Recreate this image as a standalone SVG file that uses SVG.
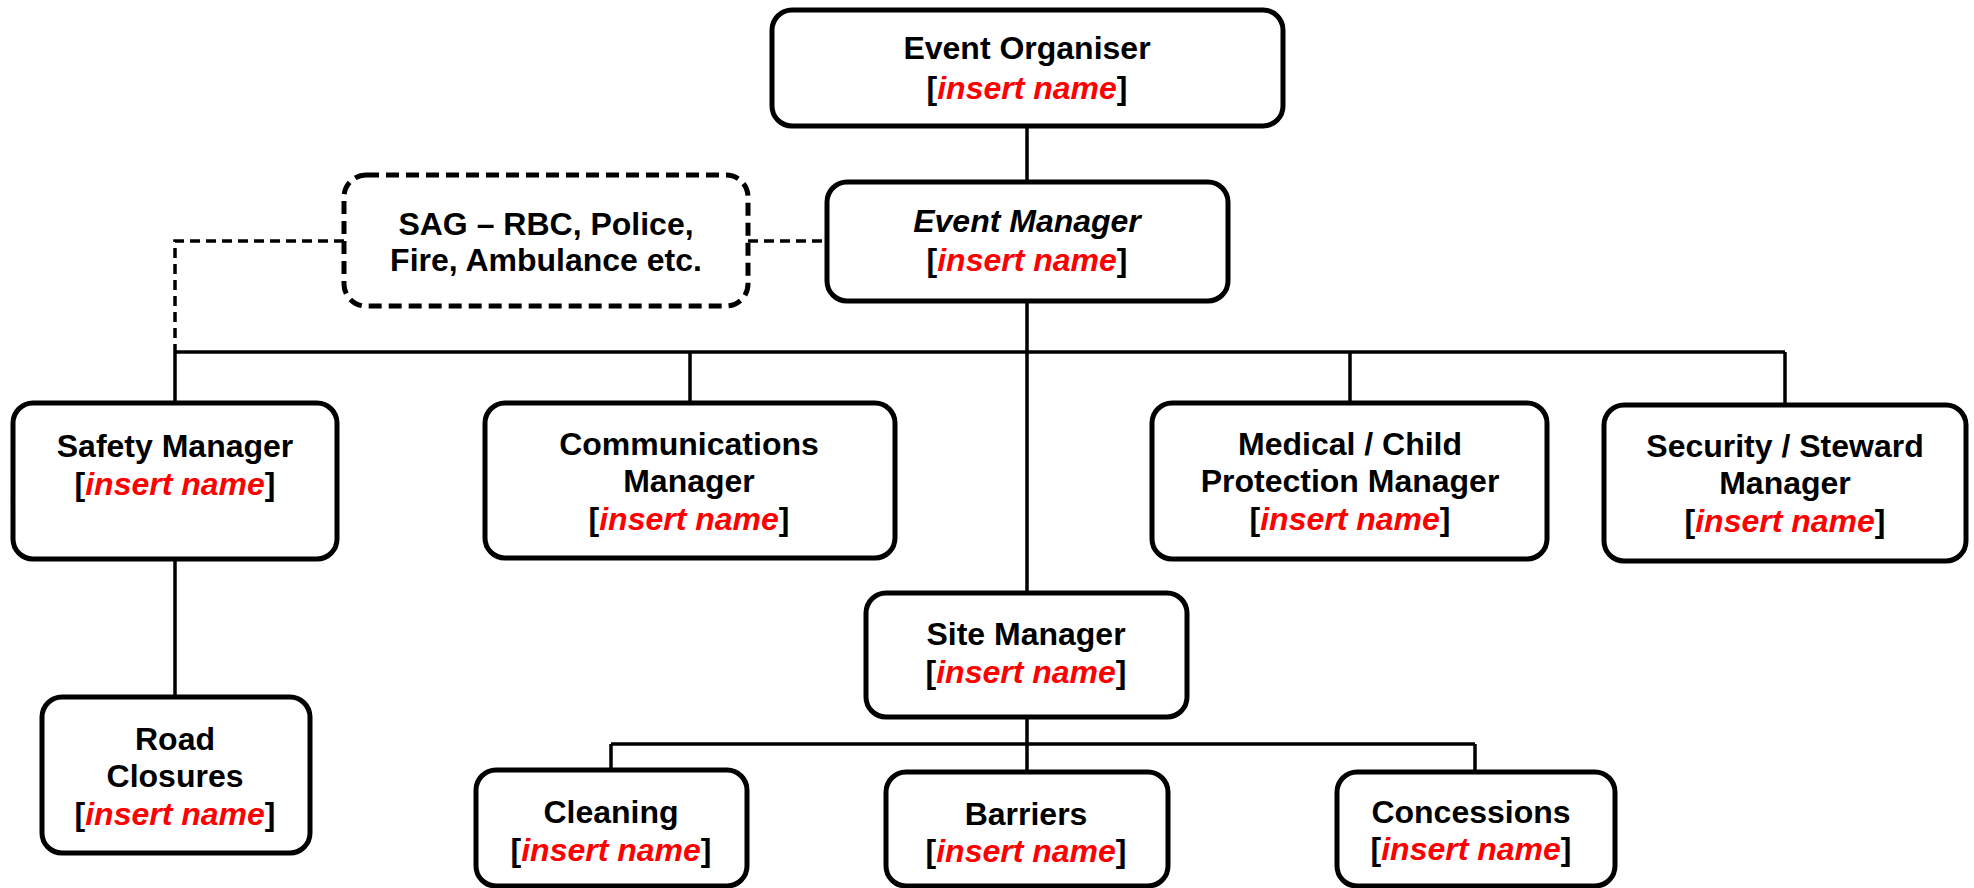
<svg xmlns="http://www.w3.org/2000/svg" width="1974" height="888" viewBox="0 0 1974 888">
<style>
.box{fill:#fff;stroke:#000;stroke-width:5}
.sag{fill:#fff;stroke:#000;stroke-width:5;stroke-dasharray:13 7}
.ln{fill:none;stroke:#000;stroke-width:3.5}
.dl{fill:none;stroke:#000;stroke-width:3.5;stroke-dasharray:10 6}
text{font-family:"Liberation Sans",Arial,sans-serif;font-weight:bold;font-size:32px;fill:#000;text-anchor:middle}
.r{fill:#f00;font-style:italic}
.i{font-style:italic}
</style>
<g id="connectors">
<line class="ln" x1="1027" y1="126" x2="1027" y2="181"/>
<line class="ln" x1="1027" y1="301" x2="1027" y2="592"/>
<line class="ln" x1="175" y1="352" x2="1785" y2="352"/>
<line class="ln" x1="175" y1="352" x2="175" y2="403"/>
<line class="ln" x1="690" y1="352" x2="690" y2="403"/>
<line class="ln" x1="1350" y1="352" x2="1350" y2="403"/>
<line class="ln" x1="1785" y1="352" x2="1785" y2="405"/>
<line class="ln" x1="175" y1="558" x2="175" y2="697"/>
<line class="ln" x1="1027" y1="717" x2="1027" y2="772"/>
<line class="ln" x1="611" y1="744" x2="1475" y2="744"/>
<line class="ln" x1="611" y1="744" x2="611" y2="770"/>
<line class="ln" x1="1475" y1="744" x2="1475" y2="772"/>
<polyline class="dl" points="344,241 175,241 175,352"/>
<line class="dl" x1="748" y1="241" x2="827" y2="241"/>
</g>
<g id="event-organiser">
<rect class="box" x="772" y="10" width="511" height="116" rx="20"/>
<text x="1027" y="59">Event Organiser</text>
<text x="1027" y="99">[<tspan class="r">insert name</tspan>]</text>
</g>
<g id="event-manager">
<rect class="box" x="827" y="182" width="401" height="119" rx="20"/>
<text x="1027" y="232" class="i">Event Manager</text>
<text x="1027" y="271">[<tspan class="r">insert name</tspan>]</text>
</g>
<g id="sag">
<rect class="sag" x="344" y="175" width="404" height="131" rx="22"/>
<text x="546" y="235">SAG – RBC, Police,</text>
<text x="546" y="271">Fire, Ambulance etc.</text>
</g>
<g id="safety-manager">
<rect class="box" x="13" y="403" width="324" height="156" rx="20"/>
<text x="175" y="457">Safety Manager</text>
<text x="175" y="495">[<tspan class="r">insert name</tspan>]</text>
</g>
<g id="road-closures">
<rect class="box" x="42" y="697" width="268" height="156" rx="20"/>
<text x="175" y="750">Road</text>
<text x="175" y="787">Closures</text>
<text x="175" y="825">[<tspan class="r">insert name</tspan>]</text>
</g>
<g id="communications-manager">
<rect class="box" x="485" y="403" width="410" height="155" rx="20"/>
<text x="689" y="455">Communications</text>
<text x="689" y="492">Manager</text>
<text x="689" y="530">[<tspan class="r">insert name</tspan>]</text>
</g>
<g id="medical-manager">
<rect class="box" x="1152" y="403" width="395" height="156" rx="20"/>
<text x="1350" y="455">Medical / Child</text>
<text x="1350" y="492">Protection Manager</text>
<text x="1350" y="530">[<tspan class="r">insert name</tspan>]</text>
</g>
<g id="security-manager">
<rect class="box" x="1604" y="405" width="362" height="156" rx="20"/>
<text x="1785" y="457">Security / Steward</text>
<text x="1785" y="494">Manager</text>
<text x="1785" y="532">[<tspan class="r">insert name</tspan>]</text>
</g>
<g id="site-manager">
<rect class="box" x="866" y="593" width="321" height="124" rx="20"/>
<text x="1026" y="645">Site Manager</text>
<text x="1026" y="683">[<tspan class="r">insert name</tspan>]</text>
</g>
<g id="cleaning">
<rect class="box" x="476" y="770" width="271" height="116" rx="20"/>
<text x="611" y="823">Cleaning</text>
<text x="611" y="861">[<tspan class="r">insert name</tspan>]</text>
</g>
<g id="barriers">
<rect class="box" x="886" y="772" width="282" height="114" rx="20"/>
<text x="1026" y="825">Barriers</text>
<text x="1026" y="862">[<tspan class="r">insert name</tspan>]</text>
</g>
<g id="concessions">
<rect class="box" x="1337" y="772" width="278" height="114" rx="20"/>
<text x="1471" y="823">Concessions</text>
<text x="1471" y="860">[<tspan class="r">insert name</tspan>]</text>
</g>
</svg>
